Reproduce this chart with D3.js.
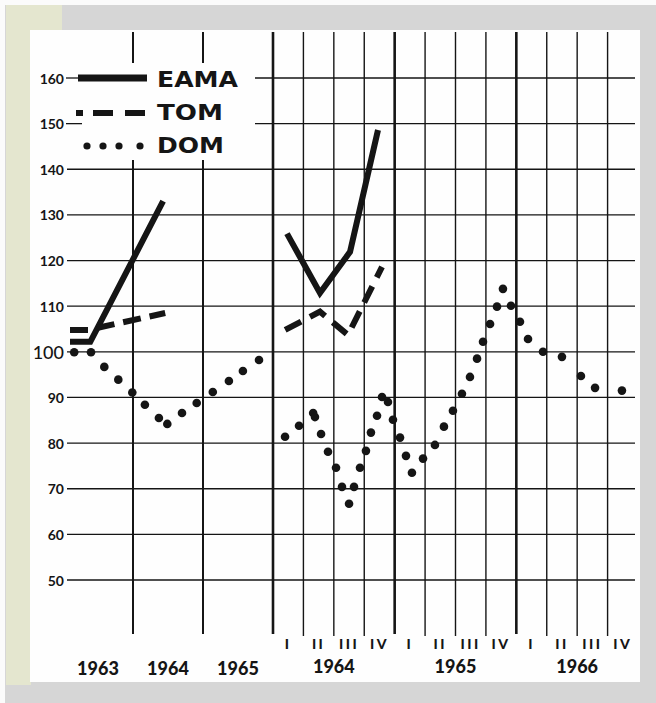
<!DOCTYPE html>
<html>
<head>
<meta charset="utf-8">
<script src="https://cdn.jsdelivr.net/npm/d3@7"></script>
<style>
  body { margin: 0; background: #fff; }
  svg { display: block; font-family: Lato, "Open Sans", sans-serif; }
</style>
</head>
<body>
<div id="chart"></div>
<script>
// Index values
const yTicks = [50, 60, 70, 80, 90, 100, 110, 120, 130, 140, 150, 160];

// Left panel: yearly scale 1963-1965
const annualYears = [1963, 1964, 1965];
const eamaAnnualT = [1963.10, 1963.39, 1964.43];
const eamaAnnualV = [102.2, 102.2, 133.0];
const tomAnnualT = [1963.10, 1963.36, 1964.46];
const tomAnnualV = [104.8, 104.8, 108.5];
const domAnnualT = [1963.16, 1963.40, 1963.59, 1963.79, 1963.99, 1964.17, 1964.37,
  1964.49, 1964.70, 1964.91, 1965.14, 1965.37, 1965.57, 1965.80];
const domAnnualV = [99.9, 99.9, 96.7, 93.9, 91.1, 88.4, 85.5,
  84.2, 86.6, 88.8, 91.2, 93.6, 95.8, 98.2];

// Right panel: quarterly scale 1964-1966
const quarterYears = [1964, 1965, 1966];
const quarterLabels = ["I", "II", "III", "IV"];
const eamaQuarterT = [1964.115, 1964.386, 1964.633, 1964.863];
const eamaQuarterV = [125.9, 112.9, 121.9, 148.6];
const tomQuarterT = [1964.10, 1964.386, 1964.616, 1964.896];
const tomQuarterV = [104.8, 108.8, 103.7, 118.6];
const domQuarterT = [1964.099, 1964.214, 1964.330, 1964.345, 1964.395, 1964.452, 1964.518,
  1964.567, 1964.625, 1964.666, 1964.715, 1964.764, 1964.805, 1964.855, 1964.896,
  1964.945, 1964.986, 1965.044, 1965.093, 1965.142, 1965.233, 1965.331, 1965.405,
  1965.479, 1965.553, 1965.619, 1965.677, 1965.726, 1965.784, 1965.841, 1965.890,
  1965.956, 1966.030, 1966.096, 1966.219, 1966.375, 1966.531, 1966.647, 1966.868];
const domQuarterV = [81.4, 83.8, 86.6, 85.7, 82.0, 78.1, 74.6,
  70.4, 66.7, 70.4, 74.6, 78.3, 82.3, 86.0, 90.1,
  89.0, 85.1, 81.2, 77.2, 73.5, 76.6, 79.6, 83.6,
  87.1, 90.8, 94.5, 98.5, 102.2, 106.1, 109.9, 113.8,
  110.1, 106.6, 102.8, 100.0, 98.9, 94.7, 92.1, 91.5];

const legendItems = ["EAMA", "TOM", "DOM"];

const ink = "#151515";

document.addEventListener('DOMContentLoaded', function() {
  drawChart();
});

function zipSeries(ts, vs) {
  return ts.map((t, i) => ({ t: t, v: vs[i] }));
}

function drawChart() {
  const W = 656, H = 703;

  const svg = d3.select("#chart")
    .append("svg")
    .attr("width", W)
    .attr("height", H);

  // scanned page frame
  svg.append("rect").attr("width", W).attr("height", H).attr("fill", "#fbfbfb");
  svg.append("rect").attr("x", 5).attr("y", 5).attr("width", W - 5).attr("height", H - 5).attr("fill", "#d6d6d6");
  svg.append("rect").attr("x", 6).attr("y", 5).attr("width", 25).attr("height", 680).attr("fill", "#e4e6cf");
  svg.append("rect").attr("x", 6).attr("y", 5).attr("width", 56).attr("height", 26).attr("fill", "#e4e6cf");
  svg.append("rect").attr("x", 30).attr("y", 30).attr("width", 610).attr("height", 652).attr("fill", "#fefefe");

  // Scales
  const y = d3.scaleLinear().domain([50, 160]).range([580, 78]);
  const xA = d3.scaleLinear().domain([1963, 1966]).range([63, 273]);
  const xQ = d3.scaleLinear().domain([1964, 1967]).range([273, 638]);

  const gridLeft = 67, gridRight = 635, legendEnd = 255;
  const vTop = 32, vBottom = 634;
  const legendGap = [63, 160];

  // Horizontal grid lines (broken by the legend on the top two rows)
  const grid = svg.append("g").attr("stroke", ink).attr("stroke-width", 1.3);
  yTicks.forEach(v => {
    if (v >= 150) {
      grid.append("line").attr("x1", 66).attr("x2", v === 160 ? 78 : 82)
        .attr("y1", y(v)).attr("y2", y(v));
      grid.append("line").attr("x1", legendEnd).attr("x2", gridRight)
        .attr("y1", y(v)).attr("y2", y(v));
    } else {
      grid.append("line").attr("x1", gridLeft).attr("x2", gridRight)
        .attr("y1", y(v)).attr("y2", y(v));
    }
  });

  // Vertical lines, yearly panel
  [1964, 1965].forEach(yr => {
    grid.append("line").attr("x1", xA(yr)).attr("x2", xA(yr))
      .attr("y1", vTop).attr("y2", legendGap[0]).attr("stroke-width", 2);
    grid.append("line").attr("x1", xA(yr)).attr("x2", xA(yr))
      .attr("y1", legendGap[1]).attr("y2", vBottom).attr("stroke-width", 2);
  });

  // Vertical lines, quarterly panel (thick at year starts)
  d3.range(0, 12).forEach(i => {
    const x = xQ(1964 + i / 4);
    grid.append("line").attr("x1", x).attr("x2", x)
      .attr("y1", vTop).attr("y2", i % 4 === 0 ? vBottom : vBottom + 2)
      .attr("stroke-width", i % 4 === 0 ? 2.6 : 1.4);
  });

  // Y axis labels
  const yAxis = svg.append("g")
    .attr("transform", "translate(66,0)")
    .call(d3.axisLeft(y).tickValues(yTicks).tickSize(0).tickPadding(2));
  yAxis.select(".domain").remove();
  yAxis.selectAll("text")
    .attr("fill", ink)
    .attr("font-family", "Lato, sans-serif")
    .attr("font-weight", d => d === 100 ? 500 : 700)
    .attr("font-size", d => d === 100 ? "18px" : "14px")
    .attr("dy", "0.36em");

  // Series
  const lineA = d3.line().x(d => xA(d.t)).y(d => y(d.v));
  const lineQ = d3.line().x(d => xQ(d.t)).y(d => y(d.v));

  const series = svg.append("g").attr("fill", "none").attr("stroke", ink);

  series.append("path").datum(zipSeries(eamaAnnualT, eamaAnnualV))
    .attr("d", lineA).attr("stroke-width", 6).attr("stroke-linejoin", "miter");
  series.append("path").datum(zipSeries(eamaQuarterT, eamaQuarterV))
    .attr("d", lineQ).attr("stroke-width", 6).attr("stroke-linejoin", "miter");

  series.append("path").datum(zipSeries(tomAnnualT, tomAnnualV))
    .attr("d", lineA).attr("stroke-width", 6).attr("stroke-dasharray", "18,9");
  series.append("path").datum(zipSeries(tomQuarterT, tomQuarterV))
    .attr("d", lineQ).attr("stroke-width", 6).attr("stroke-dasharray", "18,10");

  const dots = svg.append("g").attr("fill", ink);
  dots.selectAll("circle.a")
    .data(zipSeries(domAnnualT, domAnnualV))
    .enter().append("circle")
    .attr("class", "a")
    .attr("cx", d => xA(d.t)).attr("cy", d => y(d.v)).attr("r", 4.3);
  dots.selectAll("circle.q")
    .data(zipSeries(domQuarterT, domQuarterV))
    .enter().append("circle")
    .attr("class", "q")
    .attr("cx", d => xQ(d.t)).attr("cy", d => y(d.v)).attr("r", 4.3);

  // Legend
  const legend = svg.append("g");
  legend.append("line").attr("x1", 78).attr("x2", 147).attr("y1", 78).attr("y2", 78)
    .attr("stroke", ink).attr("stroke-width", 7);
  legend.append("line").attr("x1", 76).attr("x2", 146).attr("y1", 113).attr("y2", 113)
    .attr("stroke", ink).attr("stroke-width", 6).attr("stroke-dasharray", "7,10,20,12,20");
  legend.selectAll("circle")
    .data([87, 103, 119, 140])
    .enter().append("circle")
    .attr("cx", d => d).attr("cy", 146).attr("r", 3.6).attr("fill", ink);

  const legendY = [87, 120, 153];
  const legendW = [81, 66, 67];
  legend.selectAll("text")
    .data(legendItems)
    .enter().append("text")
    .attr("x", 157)
    .attr("y", (d, i) => legendY[i])
    .attr("textLength", (d, i) => legendW[i])
    .attr("lengthAdjust", "spacingAndGlyphs")
    .attr("font-family", "'DejaVu Sans', sans-serif")
    .attr("font-weight", 700)
    .attr("font-size", "22px")
    .attr("fill", ink)
    .text(d => d);

  // Bottom labels
  const labels = svg.append("g")
    .attr("fill", ink)
    .attr("font-family", "Lato, sans-serif")
    .attr("font-weight", 900)
    .attr("text-anchor", "middle");

  labels.selectAll("text.ya")
    .data(annualYears)
    .enter().append("text")
    .attr("class", "ya")
    .attr("x", d => xA(d + 0.5))
    .attr("y", 675)
    .attr("font-size", "18px")
    .text(d => d);

  quarterYears.forEach(yr => {
    quarterLabels.forEach((q, i) => {
      labels.append("text")
        .attr("x", xQ(yr + (i + 0.5) / 4))
        .attr("y", 649)
        .attr("font-size", "14px")
        .attr("letter-spacing", "2.5px")
        .text(q);
    });
  });

  labels.selectAll("text.yq")
    .data(quarterYears)
    .enter().append("text")
    .attr("class", "yq")
    .attr("x", d => xQ(d + 0.5))
    .attr("y", 673)
    .attr("font-size", "18px")
    .text(d => d);
}
</script>
</body>
</html>
